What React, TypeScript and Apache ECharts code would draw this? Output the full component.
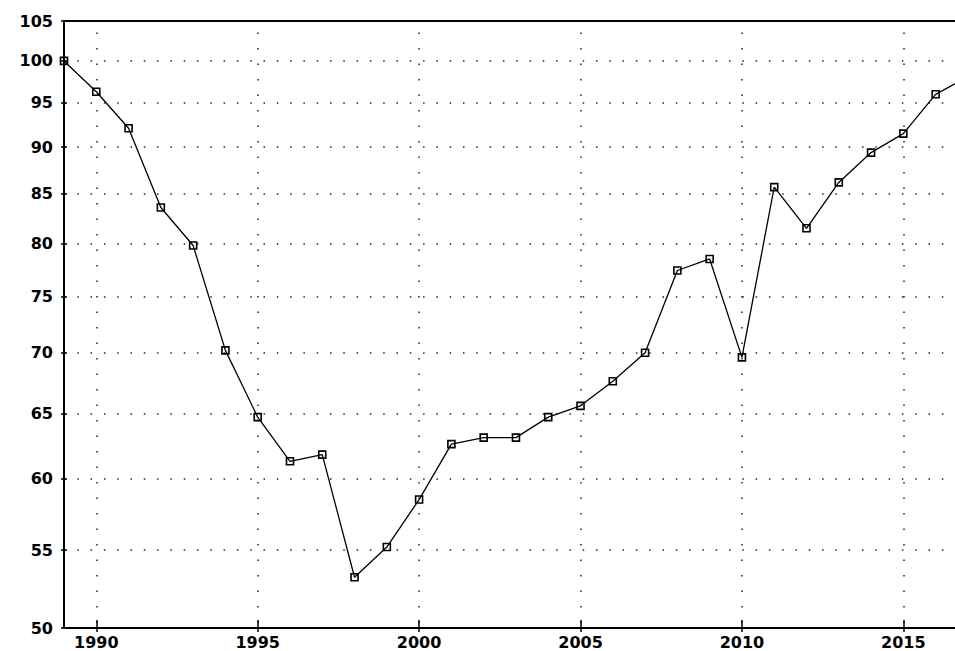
import React, { useEffect, useRef } from "react";
import * as echarts from "echarts";

const years = [1989, 1990, 1991, 1992, 1993, 1994, 1995, 1996, 1997, 1998, 1999, 2000, 2001, 2002, 2003, 2004, 2005, 2006, 2007, 2008, 2009, 2010, 2011, 2012, 2013, 2014, 2015, 2016, 2017];
const values = [100, 96.3, 92.1, 83.6, 79.8, 70.2, 64.7, 61.3, 61.8, 53.2, 55.2, 58.5, 62.6, 63.1, 63.1, 64.7, 65.6, 67.6, 70.0, 77.4, 78.5, 69.6, 85.7, 81.5, 86.2, 89.4, 91.5, 96.0, 98.1];
const yTicks = [50, 55, 60, 65, 70, 75, 80, 85, 90, 95, 100, 105];
const xTicks = [1990, 1995, 2000, 2005, 2010, 2015];

const X_MIN = 1989;
const X_MAX = 2016.6;
const Y_MIN = 50;
const Y_MAX = 105;

export default function App() {
  const ref = useRef<HTMLDivElement>(null);
  useEffect(() => {
    document.body.style.margin = "0";
    const chart = echarts.init(ref.current!, null, { renderer: "svg" });
    const lg = (v: number) => Math.log(v);
    const yCustom = yTicks.map(lg);
    const labelFont = {
      color: "#000",
      fontFamily: "DejaVu Sans",
      fontWeight: "bold" as const,
      fontSize: 16,
    };
    chart.setOption({
      animation: false,
      backgroundColor: "#fff",
      grid: {
        left: 64,
        top: 21,
        right: 0,
        bottom: 23,
        show: false,
      },
      xAxis: [
        {
          type: "value",
          min: X_MIN,
          max: X_MAX,
          position: "bottom",
          axisLine: { show: true, lineStyle: { color: "#000", width: 2 } },
          axisTick: { show: true, inside: false, length: 4, customValues: xTicks, lineStyle: { color: "#000", width: 1.5 } },
          axisLabel: { ...labelFont, margin: 6, customValues: xTicks, formatter: (v: number) => String(v) },
          splitLine: {
            show: true,
            lineStyle: { color: "#222", width: 1.5, type: [1.5, 14], dashOffset: 4 },
          },
        },
        {
          type: "value",
          min: X_MIN,
          max: X_MAX,
          position: "bottom",
          offset: 0,
          axisLine: { show: false },
          axisTick: { show: true, inside: true, length: 8, customValues: xTicks, lineStyle: { color: "#000", width: 1.5 } },
          axisLabel: { show: false },
          splitLine: { show: false },
        },
        {
          type: "value",
          min: X_MIN,
          max: X_MAX,
          position: "top",
          offset: 0,
          axisLine: { show: true, lineStyle: { color: "#000", width: 2 } },
          axisTick: { show: false },
          axisLabel: { show: false },
          splitLine: { show: false },
        },
      ],
      yAxis: [
        {
          type: "value",
          min: lg(Y_MIN),
          max: lg(Y_MAX),
          position: "left",
          axisLine: { show: true, lineStyle: { color: "#000", width: 2 } },
          axisTick: { show: true, inside: false, length: 3, customValues: yCustom, lineStyle: { color: "#000", width: 1.5 } },
          axisLabel: {
            ...labelFont,
            margin: 11,
            customValues: yCustom,
            formatter: (v: number) => String(Math.round(Math.exp(v))),
          },
          splitLine: {
            show: true,
            lineStyle: { color: "#222", width: 1.5, type: [1.5, 11.8], dashOffset: 0 },
          },
        },
        {
          type: "value",
          min: lg(Y_MIN),
          max: lg(Y_MAX),
          position: "left",
          offset: 0,
          axisLine: { show: false },
          axisTick: { show: true, inside: true, length: 3, customValues: yCustom, lineStyle: { color: "#000", width: 1.5 } },
          axisLabel: { show: false },
          splitLine: { show: false },
        },
      ],
      series: [
        {
          type: "line",
          xAxisIndex: 0,
          yAxisIndex: 0,
          data: years.map((y, i) => [y, lg(values[i])]),
          symbol: "rect",
          symbolSize: 7,
          showAllSymbol: true,
          clip: true,
          lineStyle: { color: "#000", width: 1.3 },
          itemStyle: { color: "transparent", borderColor: "#000", borderWidth: 1.6 },
          z: 5,
        },
      ],
    });
    return () => chart.dispose();
  }, []);
  return <div ref={ref} style={{ width: 955, height: 651 }} />;
}
